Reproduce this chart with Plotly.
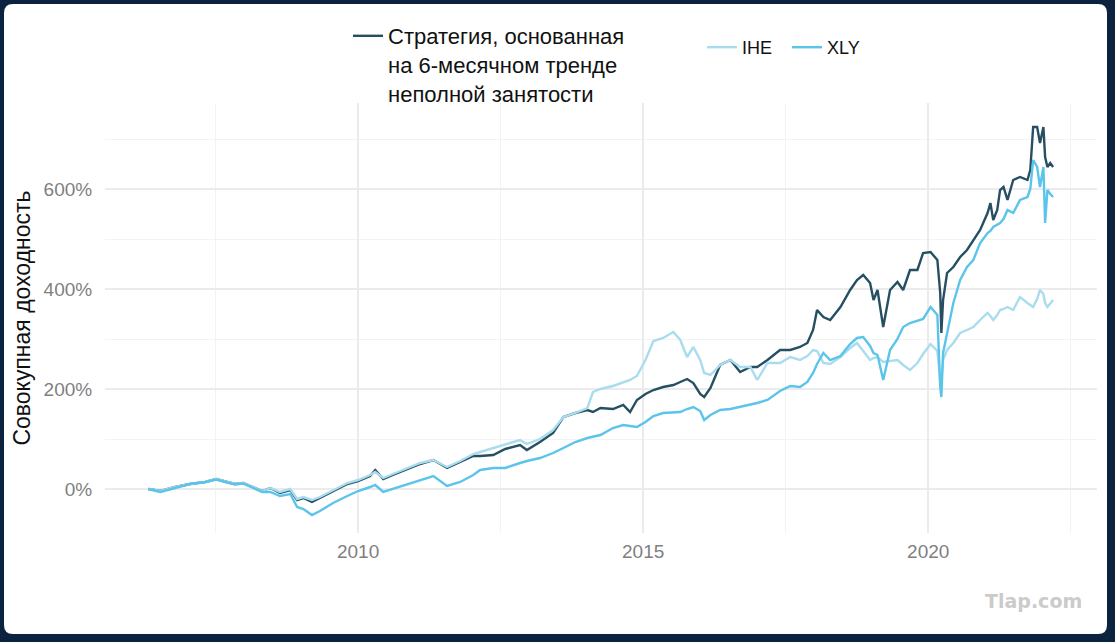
import plotly.graph_objects as go

# Decimal years (time axis)
years = [2006.32, 2006.53, 2006.79, 2007.05, 2007.32, 2007.51, 2007.67, 2007.84, 2007.98, 2008.14,
         2008.32, 2008.46, 2008.63, 2008.81, 2008.93, 2009.04, 2009.19, 2009.33, 2009.56, 2009.81,
         2010.00, 2010.21, 2010.30, 2010.44, 2010.61, 2010.82, 2011.09, 2011.32, 2011.56, 2011.79,
         2012.02, 2012.14, 2012.37, 2012.58, 2012.84, 2012.96, 2013.19, 2013.42, 2013.60, 2013.81,
         2014.02, 2014.12, 2014.25, 2014.47, 2014.65, 2014.77, 2014.89, 2015.04, 2015.18, 2015.35,
         2015.53, 2015.65, 2015.77, 2015.88, 2016.00, 2016.07, 2016.18, 2016.35, 2016.53, 2016.70,
         2016.88, 2017.00, 2017.18, 2017.40, 2017.58, 2017.75, 2017.88, 2017.98, 2018.05, 2018.16,
         2018.28, 2018.46, 2018.63, 2018.75, 2018.86, 2018.98, 2019.04, 2019.11, 2019.21, 2019.33,
         2019.46, 2019.56, 2019.68, 2019.81, 2019.91, 2020.04, 2020.16, 2020.21, 2020.23, 2020.26,
         2020.33, 2020.44, 2020.56, 2020.68, 2020.79, 2020.91, 2021.04, 2021.09, 2021.14, 2021.21,
         2021.26, 2021.32, 2021.39, 2021.49, 2021.61, 2021.74, 2021.79, 2021.84, 2021.91, 2021.96,
         2022.02, 2022.05, 2022.09, 2022.14, 2022.19]

# Cumulative return, %
strategy = [0, -4, 4, 10, 14, 20, 15, 10, 12, 4,
            -4, 2, -8, -2, -22, -18, -26, -18, -4, 10,
            16, 26, 38, 20, 28, 38, 50, 58, 42, 54,
            66, 66, 68, 80, 88, 78, 94, 112, 144, 152,
            158, 154, 162, 160, 168, 154, 178, 190, 198, 204,
            208, 214, 220, 212, 190, 184, 202, 248, 258, 234,
            244, 244, 258, 278, 278, 284, 292, 318, 358, 344,
            338, 364, 398, 418, 428, 412, 378, 398, 324, 398,
            414, 398, 438, 438, 472, 474, 458, 392, 312, 378,
            432, 444, 464, 478, 498, 518, 552, 572, 538, 558,
            598, 604, 578, 618, 624, 618, 638, 724, 724, 692,
            724, 664, 644, 652, 644]

ihe = [0, -4, 4, 10, 14, 20, 15, 10, 12, 4,
       -4, 2, -6, 0, -20, -16, -22, -16, -2, 12,
       18, 28, 34, 22, 30, 40, 52, 58, 44, 56,
       70, 74, 82, 90, 98, 90, 100, 118, 144, 152,
       162, 194, 200, 206, 214, 218, 226, 258, 296, 302,
       314, 298, 264, 284, 258, 232, 228, 248, 258, 244,
       244, 218, 252, 252, 264, 258, 266, 278, 276, 252,
       250, 264, 282, 292, 276, 258, 262, 264, 254, 256,
       258, 248, 238, 252, 270, 290, 276, 218, 214, 258,
       278, 292, 312, 318, 324, 338, 352, 346, 338, 348,
       358, 360, 364, 358, 384, 372, 368, 364, 380, 398,
       390, 372, 364, 372, 378]

xly = [0, -6, 2, 10, 14, 19, 14, 9, 11, 3,
       -6, -6, -14, -10, -36, -40, -52, -44, -28, -14,
       -4, 4, 8, -6, 0, 8, 18, 26, 6, 14,
       28, 38, 42, 42, 52, 56, 62, 72, 82, 94,
       102, 104, 108, 122, 128, 126, 124, 134, 146, 152,
       154, 154, 160, 164, 156, 138, 148, 158, 160, 164,
       168, 172, 178, 196, 206, 204, 214, 232, 250, 272,
       258, 266, 290, 302, 304, 286, 272, 268, 218, 278,
       300, 324, 332, 336, 340, 364, 348, 204, 184, 272,
       312, 372, 418, 444, 458, 492, 512, 516, 524, 528,
       532, 540, 558, 552, 578, 584, 600, 658, 644, 604,
       644, 532, 598, 590, 584]

series_names = ["Стратегия, основанная<br>на 6-месячном тренде<br>неполной занятости", "IHE", "XLY"]
colors = ["#264f62", "#a9dcee", "#5bc4ea"]

x_ticks = [2010, 2015, 2020]
y_ticks = [0, 200, 400, 600]

W, H = 1115, 642
L, R, T, B = 105, 18, 103, 109
pw, ph = W - L - R, H - T - B

fig = go.Figure()
fig.add_trace(go.Scatter(x=years, y=strategy, mode="lines", name=series_names[0],
                         line=dict(color=colors[0], width=2.4), legend="legend"))
fig.add_trace(go.Scatter(x=years, y=ihe, mode="lines", name=series_names[1],
                         line=dict(color=colors[1], width=2.4), legend="legend2"))
fig.add_trace(go.Scatter(x=years, y=xly, mode="lines", name=series_names[2],
                         line=dict(color=colors[2], width=2.4), legend="legend2"))

font_family = "Liberation Sans, Arial, sans-serif"


def px_x(p):
    return (p - L) / pw


def px_y(p):
    return (H - B - p) / ph


fig.update_layout(
    width=W, height=H,
    margin=dict(l=L, r=R, t=T, b=B),
    paper_bgcolor="#0c2340",
    plot_bgcolor="white",
    font=dict(family=font_family, color="#1a1a1a"),
    xaxis=dict(range=[2005.56, 2022.96], tickvals=x_ticks, ticktext=[str(v) for v in x_ticks],
               showgrid=True, gridcolor="#ebebeb", gridwidth=1.6, zeroline=False,
               ticks="outside", ticklen=1, tickcolor="rgba(0,0,0,0)",
               tickfont=dict(size=19, color="#7f7f7f"),
               minor=dict(tickvals=[2007.5, 2012.5, 2017.5, 2022.5], showgrid=True,
                          gridcolor="#f3f3f3", gridwidth=1.2, ticks="")),
    yaxis=dict(range=[-88, 772], tickvals=y_ticks, ticktext=[f"{v}%" for v in y_ticks],
               showgrid=True, gridcolor="#ebebeb", gridwidth=1.6, zeroline=False,
               ticks="outside", ticklen=8, tickcolor="rgba(0,0,0,0)",
               tickfont=dict(size=19, color="#7f7f7f"),
               title=dict(text="Совокупная доходность", font=dict(size=23, color="#111111"), standoff=6),
               minor=dict(tickvals=[100, 300, 500, 700], showgrid=True,
                          gridcolor="#f3f3f3", gridwidth=1.2, ticks="")),
    legend=dict(orientation="h", x=px_x(348), xanchor="left", y=px_y(15), yanchor="top",
                bgcolor="rgba(0,0,0,0)", valign="top", font=dict(size=22, color="#111111")),
    legend2=dict(orientation="h", x=px_x(702), xanchor="left", y=px_y(29), yanchor="top",
                 bgcolor="rgba(0,0,0,0)", entrywidth=40, entrywidthmode="pixels",
                 font=dict(size=18, color="#111111")),
    showlegend=True,
)

# white card (rounded corners) on the dark frame
cx0, cx1, cy0, cy1, r = 4, 1107, 4, 634, 9
rx, ry = r / pw, r / ph
X0, X1, Y0, Y1 = px_x(cx0), px_x(cx1), px_y(cy1), px_y(cy0)
card = (f"M{X0 + rx},{Y1} L{X1 - rx},{Y1} Q{X1},{Y1} {X1},{Y1 - ry} "
        f"L{X1},{Y0 + ry} Q{X1},{Y0} {X1 - rx},{Y0} L{X0 + rx},{Y0} Q{X0},{Y0} {X0},{Y0 + ry} "
        f"L{X0},{Y1 - ry} Q{X0},{Y1} {X0 + rx},{Y1} Z")
fig.add_shape(type="path", path=card, xref="paper", yref="paper", layer="below",
              fillcolor="white", line=dict(width=0))

fig.add_annotation(text="Tlap.com", xref="paper", yref="paper", x=px_x(1084), y=px_y(601),
                   xanchor="right", yanchor="middle", showarrow=False,
                   font=dict(family="DejaVu Sans, sans-serif", size=19, color="#cbcbcb", weight="bold"))

fig.write_html("out.html")
